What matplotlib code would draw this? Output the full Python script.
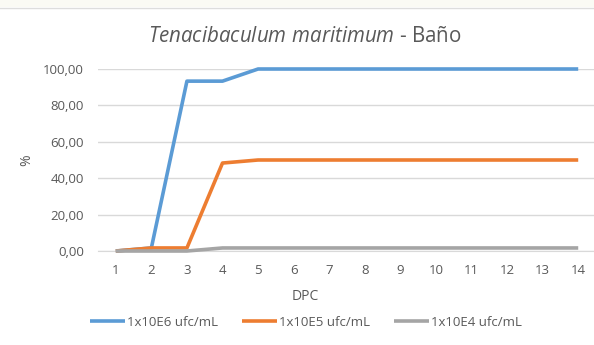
import matplotlib.pyplot as plt
from matplotlib.patches import Rectangle
from matplotlib.lines import Line2D

# === Données ===
dpc = list(range(1, 15))
e6 = [0, 1.67, 93.33, 93.33, 100, 100, 100, 100, 100, 100, 100, 100, 100, 100]
e5 = [0, 1.67, 1.67, 48.33, 50, 50, 50, 50, 50, 50, 50, 50, 50, 50]
e4 = [0, 0, 0, 1.67, 1.67, 1.67, 1.67, 1.67, 1.67, 1.67, 1.67, 1.67, 1.67, 1.67]
labels = ["1x10E6 ufc/mL", "1x10E5 ufc/mL", "1x10E4 ufc/mL"]
colors = ["#5B9BD5", "#ED7D31", "#A5A5A5"]
yticks = [0, 20, 40, 60, 80, 100]

TXT = "#595959"
FONT = "Open Sans"
plt.rcParams["font.family"] = [FONT, "DejaVu Sans"]
plt.rcParams["mathtext.fontset"] = "custom"
plt.rcParams["mathtext.it"] = FONT + ":italic"
plt.rcParams["mathtext.rm"] = FONT

W, H = 594, 345
fig = plt.figure(figsize=(W / 100, H / 100), dpi=100)

# --- bandeau en haut ---
fig.patches.append(Rectangle((0, 1 - 7 / H), 1, 7 / H, transform=fig.transFigure,
                             facecolor="#FAFAF4", edgecolor="none"))
fig.lines.append(Line2D([0, 1], [1 - 7.5 / H] * 2, transform=fig.transFigure,
                        color="#DDDDDD", linewidth=1))

left, right, top, bottom = 98, 596, 69, 251
ax = fig.add_axes([left / W, 1 - bottom / H, (right - left) / W, (bottom - top) / H])

for ys, c, lab in zip([e6, e5, e4], colors, labels):
    ax.plot(dpc, ys, color=c, linewidth=2.6, label=lab, clip_on=False,
            solid_capstyle="butt", zorder=3)

ax.set_xlim(0.5, 14.5)
ax.set_ylim(0, 100)
ax.set_yticks(yticks)
ax.set_yticklabels([f"{v:.2f}".replace(".", ",") for v in yticks])
ax.set_xticks(dpc)
ax.grid(axis="y", color="#D9D9D9", linewidth=1)
ax.set_axisbelow(True)
for s in ["top", "right", "left"]:
    ax.spines[s].set_visible(False)
ax.spines["bottom"].set_color("#D9D9D9")
ax.tick_params(length=0, colors=TXT, labelsize=9.5)
ax.tick_params(axis="y", pad=10)
ax.tick_params(axis="x", pad=9)

fig.text(27 / W, 1 - 160 / H, "%", rotation=90, ha="center", va="center",
         color=TXT, fontsize=10)
fig.text(305 / W, 1 - 296 / H, "DPC", ha="center", va="center", color=TXT, fontsize=10)
fig.text(305 / W, 1 - 36 / H, r"$Tenacibaculum\ maritimum$ - Baño", ha="center",
         va="center", color=TXT, fontsize=14.8)

fig.legend(loc="center", bbox_to_anchor=(306 / W, 1 - 322 / H), ncol=3, frameon=False,
           fontsize=9.5, labelcolor=TXT, handlelength=2.65, handletextpad=0.15,
           columnspacing=1.8)

fig.savefig("out.png", dpi=100, facecolor="white")
